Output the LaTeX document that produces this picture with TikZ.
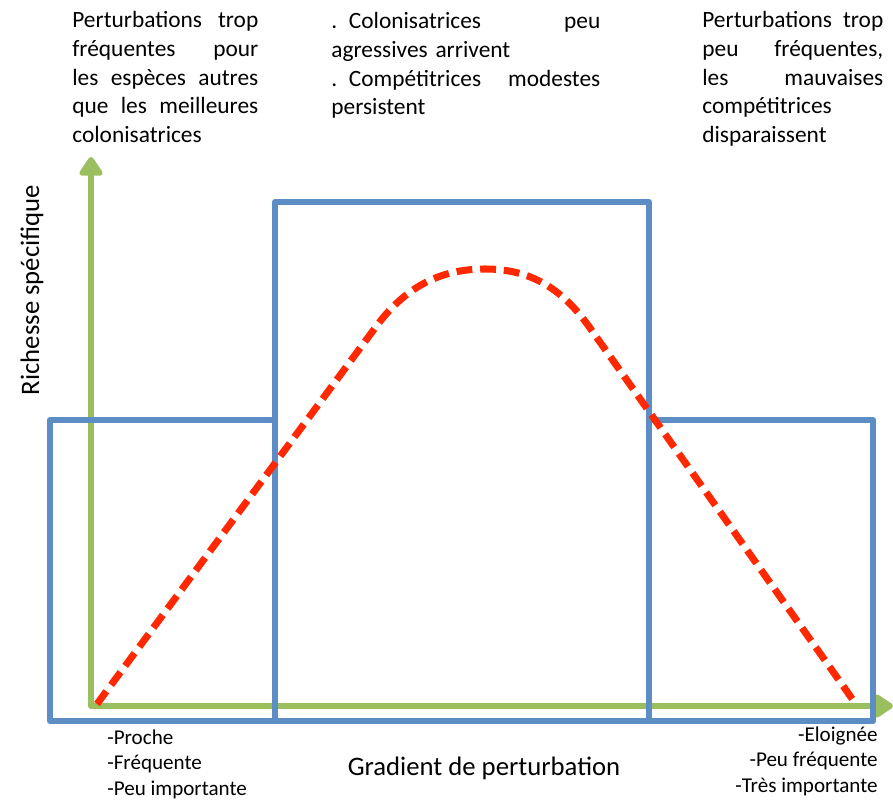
\documentclass[tikz,border=0pt]{standalone}
\usepackage{fontspec}
\setmainfont{Carlito}
\usetikzlibrary{arrows.meta}
\definecolor{boxblue}{RGB}{92,142,197}
\definecolor{axisgreen}{RGB}{155,190,95}
\definecolor{curvered}{RGB}{255,40,0}
\newcommand{\fullline}[2]{\makebox[#1][s]{\spaceskip=0.23em plus 1fil\relax #2}}
\tikzset{
  zonebox/.style={draw=boxblue, line width=3.4pt, line join=round},
  axisline/.style={draw=axisgreen, line width=3.4pt, line join=round,
    {Triangle[length=12pt,width=15pt,round]}-{Triangle[length=12pt,width=15pt,round]}},
  richness/.style={draw=curvered, line width=4pt, dash pattern=on 9pt off 4.5pt},
  headtext/.style={anchor=base west, inner sep=0pt, align=left, font=\fontsize{13.3pt}{16.3pt}\selectfont},
  axistext/.style={anchor=base, inner sep=0pt, font=\fontsize{15.2pt}{18pt}\selectfont},
  listtext/.style={inner sep=0pt, font=\fontsize{12pt}{14.4pt}\selectfont}
}
\begin{document}
\begin{tikzpicture}[x=0.02cm, y=-0.02cm]
    \useasboundingbox (0,0) rectangle (893,800);

    % axes
    \coordinate (origin) at (91,706);
    \coordinate (ytip) at (91,157);
    \coordinate (xtip) at (893,706);
    \draw[axisline] (ytip) |- (xtip);

    % zones
    \draw[zonebox] (50,420) rectangle (275,721);
    \draw[zonebox] (275,202) rectangle (649,721);
    \draw[zonebox] (649,420) rectangle (873,721);

    % richness curve
    \coordinate (rise) at (97,704);
    \coordinate (bendL) at (375,328);
    \coordinate (peak) at (485,269);
    \coordinate (bendR) at (590,328);
    \coordinate (fall) at (853,700);
    \draw[richness] (rise) -- (bendL) .. controls (405,287) and (440,269) .. (peak)
      .. controls (530,269) and (562,288) .. (bendR) -- (fall);

    % texts above the zones
    \node[headtext, text width=3.72cm] (lefttext) at (72,28)
      {\fullline{3.72cm}{Perturbations trop}\\ \fullline{3.72cm}{fréquentes pour}\\
       \fullline{3.72cm}{les espèces autres}\\ \fullline{3.72cm}{que les meilleures}\\ colonisatrices};
    \node[headtext, text width=5.38cm] (midtext) at (331,29)
      {\fullline{5.38cm}{. Colonisatrices peu}\\ agressives arrivent\\
       \fullline{5.38cm}{. Compétitrices modestes}\\ persistent};
    \node[headtext, text width=3.62cm] (righttext) at (702,28)
      {\fullline{3.62cm}{Perturbations trop}\\ \fullline{3.62cm}{peu fréquentes,}\\
       \fullline{3.62cm}{les mauvaises}\\ compétitrices\\ disparaissent};

    % axis labels
    \node[axistext, rotate=90] (ylabel) at (39,290) {Richesse spécifique};
    \node[axistext] (xlabel) at (484,775) {Gradient de perturbation};

    % ends of the gradient
    \node[listtext, anchor=base west, align=left] (nearlist) at (107,795) {-Proche\\ -Fréquente\\ -Peu importante};
    \node[listtext, anchor=base east, align=right] (farlist) at (878,792) {-Eloignée\\ -Peu fréquente\\ -Très importante};
\end{tikzpicture}
\end{document}
